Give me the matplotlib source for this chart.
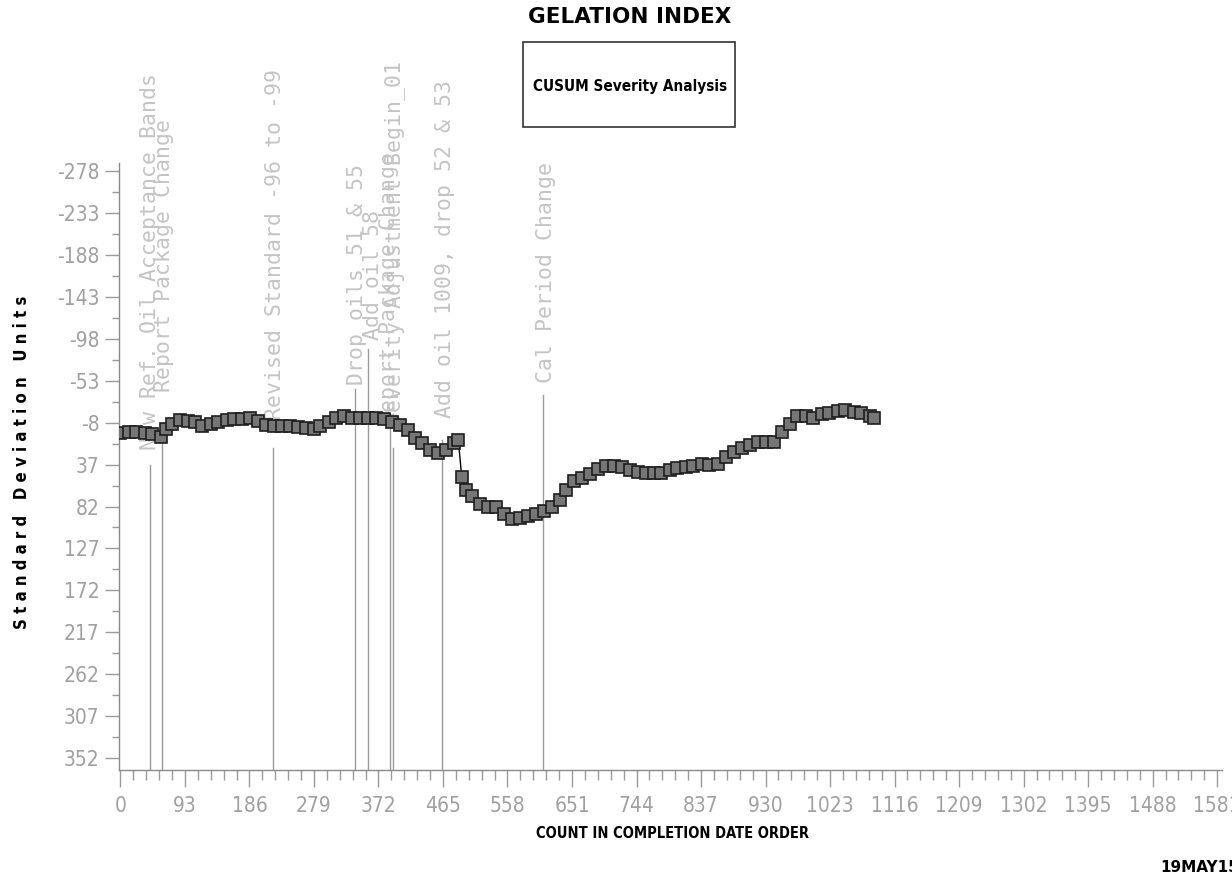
import matplotlib
matplotlib.use("Agg")
import matplotlib.pyplot as plt
from matplotlib import font_manager
from matplotlib.patches import Rectangle
import numpy as np

# CUSUM points (count, standard deviation units)
counts = [0, 12, 23, 35, 46, 58, 66, 75, 86, 98, 108, 118, 130, 141, 153, 164,
          176, 187, 199, 210, 222, 233, 245, 256, 268, 279, 288, 300, 311, 323,
          334, 346, 357, 369, 380, 392, 403, 415, 425, 435, 446, 458, 469, 481,
          487, 492, 498, 507, 518, 530, 541, 553, 564, 576, 587, 599, 610, 622,
          634, 642, 654, 665, 677, 688, 700, 711, 723, 734, 746, 757, 769, 780,
          792, 803, 815, 826, 838, 849, 861, 873, 884, 896, 907, 919, 930, 942,
          953, 965, 976, 988, 999, 1011, 1022, 1034, 1045, 1057, 1068, 1080, 1087]
cusum = [3, 2, 2, 3, 4, 7, -1, -7, -11, -10, -9, -5, -7, -9, -11, -12,
         -12, -13, -10, -6, -4, -4, -4, -3, -2, -1, -5, -9, -13, -15,
         -13, -13, -13, -13, -12, -9, -6, 0, 8, 14, 21, 24, 21, 14,
         10, 50, 64, 71, 79, 82, 83, 90, 95, 94, 92, 90, 87, 83,
         75, 64, 55, 51, 47, 42, 38, 38, 40, 43, 45, 46, 46, 46,
         43, 41, 40, 38, 36, 37, 36, 29, 23, 19, 16, 13, 13, 13,
         2, -7, -15, -15, -13, -17, -19, -21, -22, -20, -18, -15, -13]

# event annotations
event_counts = [43, 60, 220, 338, 357, 389, 393, 464, 609]
event_tops = [37, 3, 19, -44, -87, -17, 19, 10, -38]
event_labels = ["New Ref. Oil Acceptance Bands", "Report Package Change",
                "Revised Standard -96 to -99", "Drop oils 51 & 55", "Add oil 58",
                "Report Package Change", "Severity Adjustment Begin_01",
                "Add oil 1009, drop 52 & 53", "Cal Period Change"]
label_counts = [43, 63, 223, 341, 364, 387, 395, 468, 613]
label_bottoms = [21, -41, -11, -49, -97, -6, -6, -13, -51]

x_ticks = [0, 93, 186, 279, 372, 465, 558, 651, 744, 837, 930, 1023, 1116,
           1209, 1302, 1395, 1488, 1581]
y_ticks = [-278, -233, -188, -143, -98, -53, -8, 37, 82, 127, 172, 217, 262, 307, 352]


def find_narrow(bold):
    # look for any condensed / narrow face on the system
    for f in font_manager.fontManager.ttflist:
        n = (f.name + " " + f.fname).lower()
        narrowish = "condensed" in n or "narrow" in n or f.stretch in (
            "condensed", "semi-condensed", "extra-condensed", 300)
        if not narrowish or "italic" in n or "oblique" in n:
            continue
        w = f.weight if isinstance(f.weight, int) else (700 if "bold" in str(f.weight) else 400)
        if bold != (w >= 600):
            continue
        return font_manager.FontProperties(fname=f.fname)
    return font_manager.FontProperties(family="DejaVu Sans",
                                       weight="bold" if bold else "normal",
                                       stretch="condensed")


narrow = find_narrow(False)
narrow_bold = find_narrow(True)

fig = plt.figure(figsize=(12.32, 8.75), dpi=100)
ax = fig.add_axes([0.0966, 0.12, 0.8953, 0.6937])

for c, top in zip(event_counts, event_tops):
    ax.plot([c, c], [top, 365], color="#9a9a9a", lw=1, zorder=1)
for c, b, lab in zip(label_counts, label_bottoms, event_labels):
    ax.text(c, b, lab, rotation=90, ha="center", va="bottom",
            family="DejaVu Sans Mono", fontsize=15.5, color="#c4c4c4", zorder=1)

ax.plot(counts, cusum, color="black", lw=1, marker="s", markersize=8.5,
        markerfacecolor="#767676", markeredgecolor="#1e1e1e", markeredgewidth=1.2,
        zorder=3)

ax.set_xlim(-2, 1588)
ax.set_ylim(365, -287)
ax.set_xticks(x_ticks)
ax.set_xticks(np.arange(0, 1582, 18.6), minor=True)
ax.set_yticks(y_ticks)
ax.set_yticks(np.arange(-278, 353, 22.5), minor=True)
ax.set_xticklabels([str(t) for t in x_ticks])
ax.set_yticklabels([str(t) for t in y_ticks])

for lab in ax.get_xticklabels() + ax.get_yticklabels():
    lab.set_fontproperties(narrow)
    lab.set_fontsize(15)
    lab.set_color("#a0a0a0")

ax.tick_params(axis="x", which="major", length=12, width=1, color="#9a9a9a", pad=7)
ax.tick_params(axis="x", which="minor", length=7, width=1, color="#9a9a9a")
ax.tick_params(axis="y", which="major", length=10, width=1, color="#9a9a9a", pad=4)
ax.tick_params(axis="y", which="minor", length=5, width=1, color="#9a9a9a")

for s in ["top", "right"]:
    ax.spines[s].set_visible(False)
for s in ["left", "bottom"]:
    ax.spines[s].set_color("#8a8a8a")
    ax.spines[s].set_linewidth(1)

fig.text(0.5114, 0.9806, "GELATION INDEX", ha="center", va="center",
         fontsize=15.5, fontweight="bold", family="DejaVu Sans")
fig.patches.append(Rectangle((0.4245, 0.8549), 0.1721, 0.0971, transform=fig.transFigure,
                             facecolor="white", edgecolor="#333333", linewidth=1.2))
t = fig.text(0.5114, 0.9017, "CUSUM Severity Analysis", ha="center", va="center",
             fontproperties=narrow_bold)
t.set_fontsize(11)
t = fig.text(0.018, 0.472, "S t a n d a r d   D e v i a t i o n   U n i t s",
             rotation=90, ha="center", va="center", fontproperties=narrow_bold)
t.set_fontsize(12)
t = fig.text(0.546, 0.047, "COUNT IN COMPLETION DATE ORDER", ha="center", va="center",
             fontproperties=narrow_bold)
t.set_fontsize(10.5)
fig.text(0.942, 0.008, "19MAY15:17:13", ha="left", va="center",
         fontsize=11, fontweight="bold", family="DejaVu Sans")

fig.savefig("out.png", dpi=100)
